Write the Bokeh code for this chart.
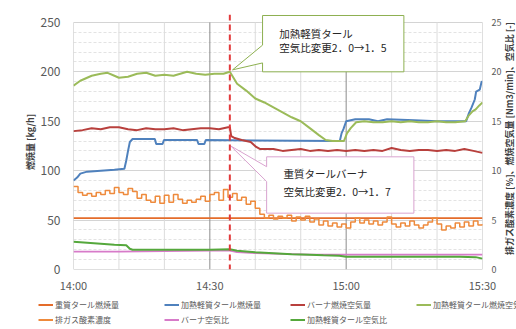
import math
from bokeh.plotting import figure
from bokeh.models import Range1d, LinearAxis, FixedTicker, Span, Legend, LegendItem
from bokeh.layouts import column, row
from bokeh.embed import file_html
from bokeh.resources import INLINE
from bokeh.core.properties import value

FONT = "Noto Sans CJK JP"

# ---- time axis (minutes after 14:00) ----
time_ticks = [0, 30, 60, 90]
time_labels = ["14:00", "14:30", "15:00", "15:30"]
change_time = 34.4  # air-ratio change at about 14:34

# ---- left axis: 燃焼量 [kg/h] ----
# 重質タール燃焼量
heavy_fuel_t = [0, 90]
heavy_fuel = [52, 52]

# 加熱軽質タール燃焼量
light_fuel_t = [0, 0.8, 1.5, 3, 6, 9, 11.2, 11.6, 12.0, 12.4, 13, 17.9, 18.2, 19.6, 19.9,
                27.2, 27.5, 28.8, 29.1, 58.6, 59.0, 59.4, 60.0, 62, 65, 67, 69, 75, 80,
                86.4, 87.0, 87.6, 88.3, 88.6, 89.4, 89.8, 90]
light_fuel = [90, 93, 97, 99, 100, 101, 102, 110, 120, 129, 132, 132, 127, 127, 131,
              131, 127, 127, 131, 130, 138, 142, 150, 152, 152, 150, 152, 151, 150,
              150, 158, 164, 172, 180, 182, 190, 190]

# ---- right axis values ----
# バーナ燃焼空気量 [Nm3/min]
burner_air_t = [0, 2, 4, 6, 8, 10, 12, 14, 16, 18, 20, 22, 24, 26, 28, 30, 32, 34, 34.4,
                34.7, 35.5, 37, 39, 40.2, 41, 44, 46, 48, 50, 52, 54, 56, 58, 60, 62, 64,
                66, 68, 70, 72, 74, 76, 78, 80, 82, 84, 86, 88, 90]
burner_air = [14.0, 14.1, 14.3, 14.2, 14.4, 14.4, 14.2, 14.1, 14.3, 14.2, 14.2, 14.3,
              14.1, 14.2, 14.3, 14.3, 14.2, 14.4, 14.4, 13.5, 13.3, 13.1, 12.9, 12.4,
              12.2, 12.2, 12.0, 12.1, 12.2, 12.0, 12.1, 12.0, 12.1, 12.0, 12.1, 12.0,
              12.1, 12.0, 12.3, 12.1, 12.0, 12.1, 12.1, 12.0, 12.1, 12.0, 12.2, 12.0, 11.8]

# 加熱軽質タール燃焼空気量 [Nm3/min]
light_air_t = [0, 1.5, 4, 6, 7.5, 9, 10, 12, 14, 16, 18, 20, 22, 25, 27, 29, 31, 33, 34.4,
               35.2, 36, 38, 40, 42, 44, 46, 48, 50, 52, 54, 55.5, 57, 59.5, 60.2, 61,
               62.2, 64, 66, 68, 70, 72, 74, 76, 78, 80, 82, 84, 86.2, 87, 87.8, 88.5,
               89.3, 90]
light_air = [18.6, 19.1, 19.6, 19.8, 19.9, 19.6, 19.4, 19.5, 19.8, 19.9, 19.6, 19.7, 19.6,
             20.0, 19.8, 19.7, 19.8, 19.8, 20.0, 19.4, 18.8, 18.1, 17.3, 16.9, 16.4, 15.9,
             15.4, 15.0, 14.3, 13.6, 13.1, 13.0, 13.0, 13.8, 14.3, 14.9, 15.0, 14.9, 14.9,
             15.0, 14.9, 15.0, 14.9, 14.9, 15.0, 14.9, 14.9, 15.0, 15.6, 16.0, 16.2, 16.6,
             16.9]

# 排ガス酸素濃度 [%], one reading per minute from 14:00
o2_t = list(range(0, 91))
o2 = [8.4, 7.8, 7.5, 7.7, 7.4, 7.8, 7.6, 8.0, 7.7, 8.3, 7.8, 7.6, 8.2, 7.9, 7.2, 7.6,
      7.0, 6.8, 7.4, 6.7, 7.5, 6.8, 7.6, 7.1, 6.7, 7.0, 6.8, 7.1, 7.4, 6.9, 7.6, 7.8,
      7.0, 8.1, 7.3, 7.7, 7.0, 7.3, 6.6, 6.9, 6.2, 5.6, 5.2, 5.5, 5.1, 5.4, 5.2, 5.5,
      4.9, 5.3, 5.0, 5.4, 4.8, 5.1, 4.5, 4.9, 4.4, 4.7, 4.3, 4.6, 4.2, 4.8, 5.2, 4.7,
      5.0, 4.6, 4.9, 4.5, 4.8, 5.3, 4.6, 4.3, 4.7, 4.4, 4.9, 4.5, 4.2, 4.5, 4.8, 5.2,
      4.6, 4.0, 4.4, 4.2, 4.7, 4.3, 4.8, 4.4, 4.9, 4.5, 4.6]

# バーナ空気比 [-]
burner_ratio_t = [0, 10, 20, 30, 34.4, 36, 40, 44, 48, 52, 56, 60, 70, 80, 90]
burner_ratio = [1.8, 1.8, 1.85, 1.9, 1.9, 1.75, 1.65, 1.6, 1.55, 1.5, 1.5, 1.5, 1.5, 1.5, 1.5]

# 加熱軽質タール空気比 [-]
light_ratio_t = [0, 3, 6, 9, 11.6, 12.4, 13, 20, 30, 34.4, 36, 40, 44, 48, 52, 55, 58.5,
                 60, 65, 75, 85, 88.5, 90]
light_ratio = [2.8, 2.7, 2.6, 2.5, 2.45, 2.1, 2.0, 2.0, 2.0, 2.05, 1.9, 1.75, 1.65, 1.55,
               1.5, 1.45, 1.4, 1.3, 1.3, 1.3, 1.3, 1.25, 1.1]

series_names = ["重質タール燃焼量", "加熱軽質タール燃焼量", "バーナ燃焼空気量",
                "加熱軽質タール燃焼空気量", "排ガス酸素濃度", "バーナ空気比",
                "加熱軽質タール空気比"]
series_colors = ["#E46C2A", "#4F81BD", "#B8403D", "#9BBB59", "#EE8A3C", "#D77BC9", "#55A83C"]

left_ticks = [0, 50, 100, 150, 200, 250]
right_ticks = [0, 5, 10, 15, 20, 25]
right_title = "排ガス酸素濃度 [%]、燃焼空気量 [Nm3/min]、空気比 [-]"

TOP = 258  # a little headroom above 250 for the callouts

p = figure(width=504, height=295, x_range=Range1d(0, 90), y_range=Range1d(0, TOP),
           output_backend="svg", toolbar_location=None,
           min_border_left=73, min_border_right=20, min_border_top=14, min_border_bottom=23)
p.extra_y_ranges = {"right": Range1d(0, TOP / 10)}
p.outline_line_color = None
p.background_fill_color = "white"
p.border_fill_color = "white"

# grid
p.xgrid.grid_line_color = None
p.ygrid.ticker = FixedTicker(ticks=left_ticks, minor_ticks=list(range(10, 250, 10)))
p.ygrid.grid_line_color = "#d4d4d4"
p.ygrid.minor_grid_line_color = "#e3e3e3"
p.ygrid.minor_grid_line_dash = "3 2"
minor_x = [10, 20, 40, 50, 70, 80]
p.segment(x0=minor_x, y0=[0] * 6, x1=minor_x, y1=[250] * 6, line_color="#dcdcdc", line_width=1)
p.segment(x0=[30, 60], y0=[0, 0], x1=[30, 60], y1=[250, 250], line_color="#8c8c8c", line_width=1)
# frame lines
p.segment(x0=[0, 90, 0], y0=[0, 0, 0], x1=[0, 90, 90], y1=[250, 250, 0],
          line_color="#bfbfbf", line_width=1)

# axes
xa = p.xaxis[0]
xa.ticker = FixedTicker(ticks=time_ticks)
xa.major_label_overrides = {t: s for t, s in zip(time_ticks, time_labels)}
ya = p.yaxis[0]
ya.ticker = FixedTicker(ticks=left_ticks)
ya.axis_label = "燃焼量 [kg/h]"
ra = LinearAxis(y_range_name="right", ticker=FixedTicker(ticks=right_ticks))
p.add_layout(ra, "right")
for ax in (xa, ya, ra):
    ax.axis_line_color = None
    ax.major_tick_line_color = None
    ax.minor_tick_line_color = None
    ax.major_tick_out = 0
    ax.major_tick_in = 0
    ax.minor_tick_out = 0
    ax.major_label_text_font = FONT
    ax.major_label_text_color = "#595959"
    ax.axis_label_text_font = FONT
    ax.axis_label_text_font_style = "bold"
    ax.axis_label_text_color = "#404040"
    ax.axis_label_text_font_size = "9px"
xa.major_label_text_font_size = "11px"
xa.major_label_standoff = 7
ya.major_label_text_font_size = "12px"
ya.major_label_standoff = 13
ya.axis_label_standoff = 1
ra.major_label_text_font_size = "9px"
ra.major_label_standoff = 9

# series
p.line(heavy_fuel_t, heavy_fuel, line_color=series_colors[0], line_width=1.8)
p.line(light_fuel_t, light_fuel, line_color=series_colors[1], line_width=2)
p.line(burner_air_t, [v * 10 for v in burner_air], line_color=series_colors[2], line_width=2)
p.line(light_air_t, [v * 10 for v in light_air], line_color=series_colors[3], line_width=2)
p.step(o2_t, [v * 10 for v in o2], mode="after", line_color=series_colors[4], line_width=1.5)
p.line(burner_ratio_t, [v * 10 for v in burner_ratio], line_color=series_colors[5], line_width=1.8)
p.line(light_ratio_t, [v * 10 for v in light_ratio], line_color=series_colors[6], line_width=2)

# change marker
p.add_layout(Span(location=change_time, dimension="height", line_color="#E2393B",
                  line_dash="6 4", line_width=2))

# callouts
note1_x = [41.6, 72.7, 72.7, 41.6, 41.6, 35.0, 41.6]
note1_y = [257, 257, 200, 200, 209, 202, 227]
p.patch(note1_x, note1_y, fill_color="white", line_color="#8DB050", line_width=1)
note2_x = [42.5, 74.9, 74.9, 42.5, 42.5, 34.6, 42.5]
note2_y = [114, 114, 57, 57, 89, 125, 104]
p.patch(note2_x, note2_y, fill_color="white", line_color="#D9A3CF", line_width=1)
p.text(x=[45.3, 45.3, 46.2, 46.2], y=[239, 225, 97, 79],
       text=["加熱軽質タール", "空気比変更2．0→1．5", "重質タールバーナ", "空気比変更2．0→1．7"],
       text_font=value(FONT), text_font_size="10.5px", text_color="#262626",
       text_baseline="middle", text_align="left")

# narrow strip carrying the right axis title, reading bottom to top
side = figure(width=12, height=295, x_range=Range1d(0, 1), y_range=Range1d(0, 295),
              output_backend="svg", toolbar_location=None, min_border=0,
              x_axis_type=None, y_axis_type=None)
side.frame_align = False
side.outline_line_color = None
side.grid.visible = False
side.text(x=[0.45], y=[157], text=[right_title], angle=math.pi / 2,
          text_font=value(FONT), text_font_size="9px", text_font_style="bold",
          text_color="#404040", text_align="center", text_baseline="middle")

# legend strip, laid out on its own full-width frame
lg = figure(width=516, height=34, x_range=Range1d(0, 1), y_range=Range1d(0, 1),
            output_backend="svg", toolbar_location=None, min_border=0,
            x_axis_type=None, y_axis_type=None)
lg.frame_align = False
lg.outline_line_color = None
lg.grid.visible = False
items = []
for name, color in zip(series_names, series_colors):
    r = lg.line(x=[0, 1], y=[-5, -5], line_color=color, line_width=2)
    items.append(LegendItem(label=name, renderers=[r]))
legend = Legend(items=items, orientation="horizontal", ncols=4, location=(38, 2),
                glyph_width=15, glyph_height=15, label_height=15, label_width=109,
                label_standoff=2, spacing=0, padding=0, margin=0,
                label_text_font=FONT, label_text_font_size="8px",
                label_text_color="#595959", background_fill_alpha=0,
                border_line_color=None)
lg.add_layout(legend)

layout = column(row(p, side, spacing=0), lg, spacing=0)
open("out.html", "w").write(file_html(layout, INLINE))
